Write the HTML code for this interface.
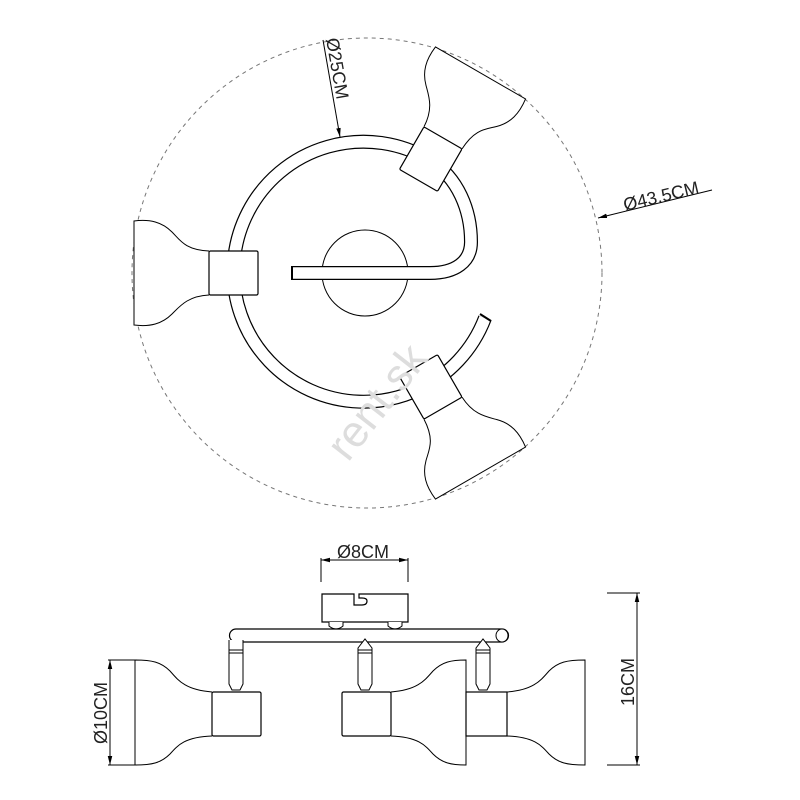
<!DOCTYPE html>
<html><head><meta charset="utf-8"><style>
html,body{margin:0;padding:0;background:#fff;}
svg{display:block;}
text{font-family:"Liberation Sans",sans-serif;}
</style></head><body>
<svg width="800" height="800" viewBox="0 0 800 800" xmlns="http://www.w3.org/2000/svg">
<defs>
<marker id="ar" viewBox="0 0 10 10" refX="10" refY="5" markerWidth="9" markerHeight="9" orient="auto-start-reverse" markerUnits="userSpaceOnUse">
<path d="M0,2.5 L10,5 L0,7.5 z" fill="#000"/>
</marker>
<g id="lampT">
<path d="M209,251 C185,250 180,240 172,232 C162,222 150,219 134,221 L134,325 C150,327 162,324 172,314 C180,306 188,296 209,295" fill="#fff" stroke="#000" stroke-width="1"/>
<rect x="209" y="251" width="49" height="44" rx="1.5" fill="#fff" stroke="#000" stroke-width="1.2"/>
</g>
</defs>
<!-- dashed outer circle -->
<circle cx="367" cy="273" r="235" fill="none" stroke="#777" stroke-width="1" stroke-dasharray="4,4"/>
<!-- center circle -->
<circle cx="365" cy="273" r="43" fill="none" stroke="#000" stroke-width="1"/>
<!-- ring -->
<path d="M485,318 A130 130 0 1 1 430,160 C458,178 471,210 471,242 C471,262 455,273 430,273 L292,273" fill="none" stroke="#000" stroke-width="14"/>
<path d="M485,318 A130 130 0 1 1 430,160 C458,178 471,210 471,242 C471,262 455,273 430,273 L292.7,273" fill="none" stroke="#fff" stroke-width="11.6"/>
<line x1="292" y1="266" x2="292" y2="280" stroke="#000" stroke-width="2"/>
<line x1="480" y1="314" x2="491" y2="321" stroke="#000" stroke-width="2"/>
<!-- lamps -->
<use href="#lampT"/>
<use href="#lampT" transform="rotate(120 365 273)"/>
<use href="#lampT" transform="rotate(-120 365 273)"/>
<!-- watermark -->
<text x="0" y="0" font-size="44" fill="#ddd" transform="translate(348,463) rotate(-52)">rent.sk</text>
<!-- dim 25 -->
<line x1="323" y1="40" x2="340" y2="137" stroke="#000" stroke-width="1" marker-end="url(#ar)"/>
<text x="0" y="0" font-size="18" fill="#222" transform="translate(326,39) rotate(80)">Ø25CM</text>
<!-- dim 43.5 -->
<line x1="712" y1="190" x2="598" y2="218" stroke="#000" stroke-width="1" marker-end="url(#ar)"/>
<text x="0" y="0" font-size="18" fill="#222" transform="translate(625,211) rotate(-13.5)">Ø43.5CM</text>

<!-- ===== bottom view ===== -->
<line x1="321" y1="560" x2="408" y2="560" stroke="#000" stroke-width="1" marker-start="url(#ar)" marker-end="url(#ar)"/>
<line x1="321" y1="558" x2="321" y2="582" stroke="#000"/>
<line x1="408" y1="558" x2="408" y2="582" stroke="#000"/>
<text x="337" y="558" font-size="18" fill="#222">Ø8CM</text>
<!-- canopy -->
<path d="M322,594 L354,594 L354,605 L362,605 Q367,605 367,601 Q367,598 362,598 L359,598 L359,594 L408,594 L408,622 L322,622 Z" fill="#fff" stroke="#000" stroke-width="1.2"/>
<path d="M329,622 L329,626 Q336,632 343,626 L343,622 M388,622 L388,626 Q395,632 402,626 L402,622" fill="#fff" stroke="#000"/>
<!-- bar -->
<path d="M236,629 L502,629 A6.5,6.5 0 0 1 502,642 L236,642 A6.5,6.5 0 0 1 236,629 Z" fill="#fff" stroke="#000" stroke-width="1.2"/>
<ellipse cx="502" cy="635.5" rx="6" ry="6.5" fill="#fff" stroke="#000"/>
<!-- stems -->
<g fill="#fff" stroke="#000" stroke-width="1">
<path d="M229,640 L229,684 L232,690 L240,690 L243,684 L243,640"/>
<path d="M358,648 L365,639 L372,648 L372,684 L369,690 L361,690 L358,684 Z"/>
<path d="M476,648 L483,639 L490,648 L490,684 L487,690 L479,690 L476,684 Z"/>
</g>
<path d="M229,650 L243,650 M229,653 L243,653 M358,650 L372,650 M358,653 L372,653 M476,650 L490,650 M476,653 L490,653" stroke="#000"/>
<!-- shades bottom -->
<g fill="#fff" stroke="#000" stroke-width="1">
<path d="M212,692 C185,690 178,680 170,671 C161,662 152,660 135,660 L135,765 C152,765 161,763 170,754 C178,745 185,737 212,736"/>
<path d="M391,692 C418,690 425,680 433,671 C442,662 451,660 466,660 L466,765 C451,765 442,763 433,754 C425,745 418,737 391,736"/>
<path d="M507,692 C534,690 541,680 549,671 C558,662 567,660 585,660 L585,765 C567,765 558,763 549,754 C541,745 534,737 507,736"/>
</g>
<g fill="#fff" stroke="#000" stroke-width="1.2">
<rect x="212" y="692" width="49" height="44" rx="1.5"/>
<rect x="342" y="692" width="49" height="44" rx="1.5"/>
<rect x="466" y="692" width="41" height="44" rx="0"/>
</g>
<!-- dim 10 -->
<line x1="110" y1="660" x2="110" y2="765" stroke="#000" marker-start="url(#ar)" marker-end="url(#ar)"/>
<line x1="108" y1="660" x2="137" y2="660" stroke="#000"/>
<line x1="108" y1="765" x2="137" y2="765" stroke="#000"/>
<text x="0" y="0" font-size="18" fill="#222" transform="translate(107,744) rotate(-90)">Ø10CM</text>
<!-- dim 16 -->
<line x1="637" y1="593" x2="637" y2="765" stroke="#000" marker-start="url(#ar)" marker-end="url(#ar)"/>
<line x1="607" y1="593" x2="640" y2="593" stroke="#000"/>
<line x1="607" y1="765" x2="640" y2="765" stroke="#000"/>
<text x="0" y="0" font-size="18" fill="#222" transform="translate(634,706) rotate(-90)">16CM</text>
</svg>
</body></html>
